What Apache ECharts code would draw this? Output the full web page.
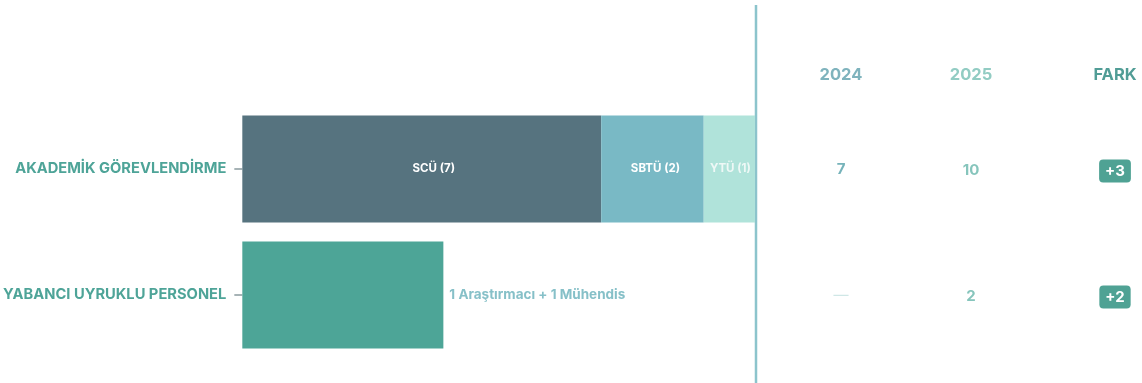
<!DOCTYPE html>
<html>
<head>
<meta charset="utf-8">
<script src="https://cdn.jsdelivr.net/npm/echarts@6/dist/echarts.min.js"></script>
<style>
  html, body { margin: 0; padding: 0; background: #ffffff; }
  #chart { width: 1142px; height: 383px; }
</style>
</head>
<body>
<div id="chart"></div>
<script>
// Row categories
const categories = ['AKADEMİK GÖREVLENDİRME', 'YABANCI UYRUKLU PERSONEL'];

// Stacked breakdown of the first row (by university)
const scuValues  = [7, '-'];
const sbtuValues = [2, '-'];
const ytuValues  = [1, '-'];
const segmentNames = ['SCÜ', 'SBTÜ', 'YTÜ'];

// Second row: foreign staff
const foreignValues = ['-', 2];
const foreignNote = '1 Araştırmacı + 1 Mühendis';

// Comparison table
const tableHeaders = ['2024', '2025', 'FARK'];
const values2024 = [7, null];
const values2025 = [10, 2];

const FONT = 'Inter, "Noto Sans", sans-serif';
const chart = echarts.init(document.getElementById('chart'));

function segLabel(name, color, offset) {
  return {
    show: true,
    position: 'inside',
    offset: offset || [0, 0],
    color: color,
    fontFamily: FONT,
    fontWeight: 'bold',
    fontSize: 11.5,
    formatter: p => name + ' (' + p.value + ')'
  };
}

const BAR_W = 107;

chart.setOption({
  animation: false,
  grid: { left: 241, right: 387, top: 106, bottom: 25 },
  xAxis: [
    { type: 'value', min: 0, max: 10, show: false },
    { type: 'value', min: 0, max: 5.1, show: false }
  ],
  yAxis: {
    type: 'category',
    data: categories,
    inverse: true,
    axisLine: { show: false },
    axisTick: { show: true, length: 8, alignWithLabel: true, lineStyle: { color: '#8a9a9e', width: 1.5 } },
    splitLine: { show: false },
    axisLabel: {
      margin: 16,
      color: '#4ea498',
      fontFamily: FONT,
      fontWeight: 'bold',
      fontSize: 14.7
    }
  },
  series: [
    {
      type: 'bar', name: segmentNames[0], stack: 'akd', xAxisIndex: 0,
      data: scuValues, barWidth: BAR_W, barGap: '-100%',
      itemStyle: { color: '#56737f' },
      label: segLabel(segmentNames[0], '#ffffff', [12, 0])
    },
    {
      type: 'bar', name: segmentNames[1], stack: 'akd', xAxisIndex: 0,
      data: sbtuValues, barWidth: BAR_W, barGap: '-100%',
      itemStyle: { color: '#79b9c5' },
      label: segLabel(segmentNames[1], '#ffffff', [3, 0])
    },
    {
      type: 'bar', name: segmentNames[2], stack: 'akd', xAxisIndex: 0,
      data: ytuValues, barWidth: BAR_W, barGap: '-100%',
      itemStyle: { color: '#b0e3da' },
      label: segLabel(segmentNames[2], '#eef8f6', [1, 0])
    },
    {
      type: 'bar', name: 'foreign', xAxisIndex: 1,
      data: foreignValues, barWidth: BAR_W, barGap: '-100%',
      itemStyle: { color: '#4da597' },
      label: {
        show: true,
        position: 'right',
        distance: 6,
        color: '#86c0c8',
        fontFamily: FONT,
        fontWeight: 'bold',
        fontSize: 13.5,
        formatter: () => foreignNote
      }
    }
  ]
});

// Divider and comparison table, placed against the bar rows
const colX = [841, 971, 1115];
const headerColors = ['#7fb3bd', '#92ccc3', '#519d96'];
const xEnd = chart.convertToPixel({ xAxisIndex: 0 }, 10);
const graphics = [
  {
    type: 'line',
    shape: { x1: xEnd + 1, y1: 5, x2: xEnd + 1, y2: 383 },
    style: { stroke: '#8cc4cc', lineWidth: 2.5 }
  }
];

tableHeaders.forEach((h, i) => {
  graphics.push({
    type: 'text',
    x: colX[i], y: 75.5,
    style: {
      text: h, fill: headerColors[i], align: 'center', verticalAlign: 'middle',
      font: 'bold 16.5px ' + FONT
    }
  });
});

categories.forEach((cat, r) => {
  const y = chart.convertToPixel({ yAxisIndex: 0 }, cat);
  const v24 = values2024[r];
  const v25 = values2025[r];
  graphics.push({
    type: 'text', x: colX[0], y: y,
    style: {
      text: v24 == null ? '—' : String(v24),
      fill: v24 == null ? '#cfe7e6' : '#76b3ba',
      align: 'center', verticalAlign: 'middle',
      font: (v24 == null ? '' : 'bold ') + '15px ' + FONT
    }
  });
  graphics.push({
    type: 'text', x: colX[1], y: y + 1,
    style: {
      text: String(v25), fill: '#86c5bc', align: 'center', verticalAlign: 'middle',
      font: 'bold 15px ' + FONT
    }
  });
  const diff = v25 - (v24 == null ? 0 : v24);
  graphics.push({
    type: 'text', x: colX[2], y: y + 2,
    style: {
      text: (diff >= 0 ? '+' : '') + diff,
      fill: '#ffffff', align: 'center', verticalAlign: 'middle',
      font: 'bold 15px ' + FONT,
      lineHeight: 16,
      backgroundColor: '#4fa294',
      borderRadius: 4,
      padding: [4, 6, 3, 6]
    }
  });
});

chart.setOption({ graphic: graphics });
</script>
</body>
</html>
